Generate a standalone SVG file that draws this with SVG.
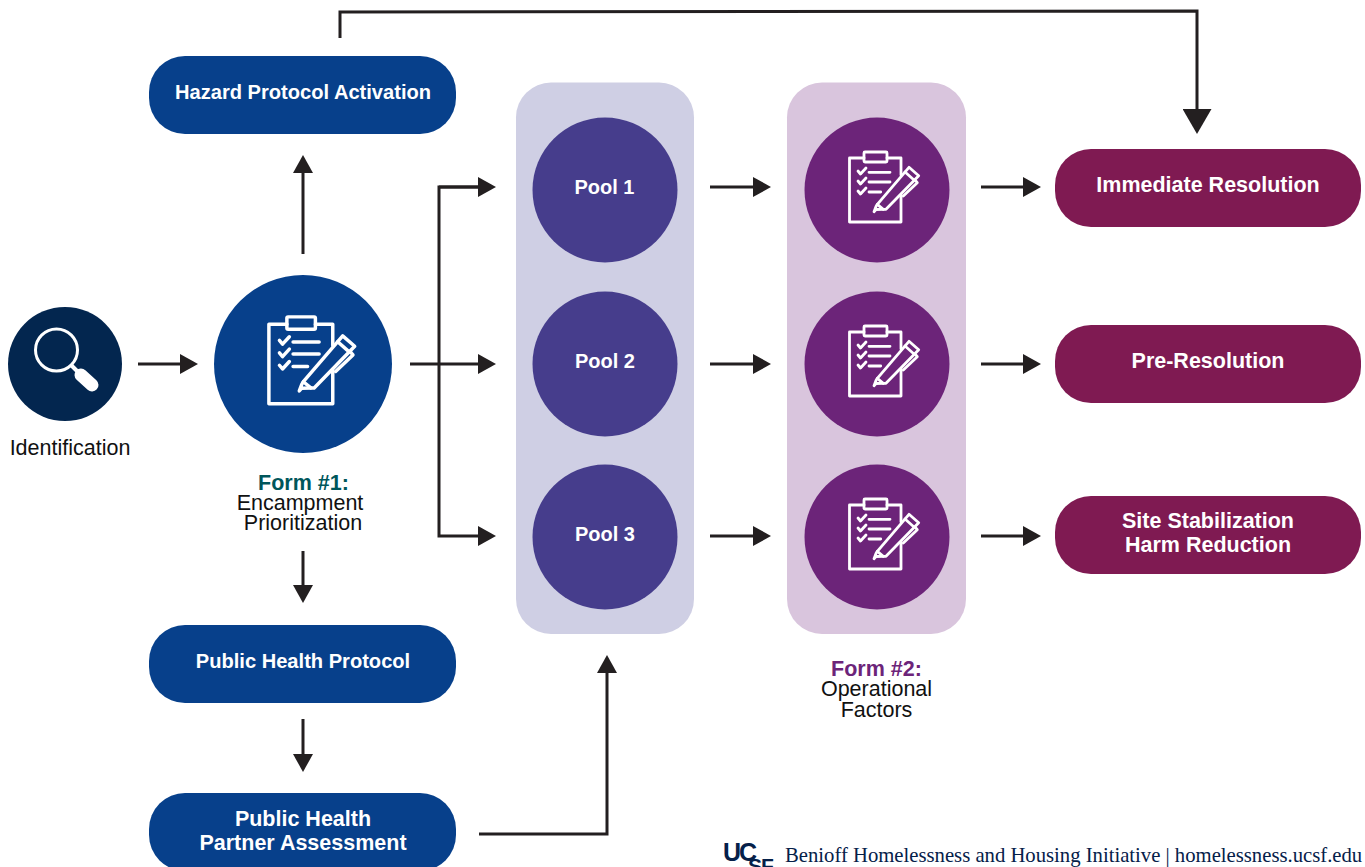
<svg xmlns="http://www.w3.org/2000/svg" width="1365" height="867" viewBox="0 0 1365 867">
<style>
text{font-family:"Liberation Sans",Arial,Helvetica,sans-serif;text-anchor:middle}
.pill{font-weight:700;font-size:21.500px;fill:#fff}
.pills{font-weight:700;font-size:20.100px;fill:#fff}
.pool{font-weight:700;font-size:20px;fill:#fff}
.cap{font-size:21.500px;fill:#111}
.capb{font-size:21.500px;font-weight:700}
.blue{fill:#07408b}.maroon{fill:#7f1a52}.poolc{fill:#463d8c}.formc{fill:#6c2479}
.conn path{fill:none;stroke:#231f20;stroke-width:3}
.ic{fill:none;stroke:#fff;stroke-width:2.800;stroke-linejoin:round;stroke-linecap:round}
</style>
<defs>
<marker id="ah" markerUnits="userSpaceOnUse" markerWidth="18" markerHeight="20" refX="6" refY="10" orient="auto" viewBox="0 0 18 20"><path d="M0 0L18 10L0 20Z" fill="#231f20"/></marker>
<marker id="ahb" markerUnits="userSpaceOnUse" markerWidth="25" markerHeight="29" refX="8" refY="14.500" orient="auto" viewBox="0 0 25 29"><path d="M0 0L25 14.500L0 29Z" fill="#231f20"/></marker>
<g id="formicon" class="ic">
<path d="M-13 -32H-27.500V32H24V5M24 -15V-32H10"/>
<rect x="-13" y="-38" width="23" height="10" rx="1"/>
<path d="M-19 -19L-16.500 -16L-11 -22M-19 -9L-16.500 -6L-11 -12M-19 1L-16.500 4L-11 -2"/>
<path d="M-8 -17.700H13M-8 -8H13M-8 2H3.700"/>
<path d="M-3 21.700L-1 16.500L0.300 14.300L32 -22.700L41.700 -14.300L9 19.300L6.300 19.300L-1 19.500Z"/>
<path d="M0.300 14.300L6.300 19.300M28 -18L37 -10M26.300 6L40.300 -7.300L38 -10"/>
</g>
</defs>
<rect width="1365" height="867" fill="#fff"/>
<g id="panel-pools"><rect x="516" y="82.500" width="178" height="551.500" rx="35" fill="#cfcfe4"/></g>
<g id="panel-forms"><rect x="787" y="82.500" width="179" height="551.500" rx="35" fill="#d9c5dd"/></g>
<g class="conn" id="connectors">
<path marker-end="url(#ah)" d="M138 364H186"/>
<path marker-end="url(#ah)" d="M303 254V167"/>
<path marker-end="url(#ah)" d="M410 364H484"/>
<path marker-end="url(#ah)" d="M478 187H439V536H484"/>
<path marker-end="url(#ah)" d="M439 187H484"/>
<path marker-end="url(#ah)" d="M710 187H759"/>
<path marker-end="url(#ah)" d="M710 364H759"/>
<path marker-end="url(#ah)" d="M710 536H759"/>
<path marker-end="url(#ah)" d="M981 187H1029"/>
<path marker-end="url(#ah)" d="M981 364H1029"/>
<path marker-end="url(#ah)" d="M981 536H1029"/>
<path marker-end="url(#ah)" d="M303 551V591"/>
<path marker-end="url(#ah)" d="M303 719V760"/>
<path marker-end="url(#ah)" d="M479 834H607V667"/>
<path marker-end="url(#ahb)" d="M340 38V12L1197 11V117"/>
</g>
<g id="identification">
<circle cx="65" cy="364" r="57" fill="#03264f"/>
<circle cx="56.500" cy="350" r="21" fill="none" stroke="#fff" stroke-width="3"/>
<path d="M71 365L78 372" stroke="#fff" stroke-width="4" fill="none"/>
<path d="M81 375L92 385" stroke="#fff" stroke-width="13" stroke-linecap="round" fill="none"/>
<text class="cap" x="70" y="455">Identification</text>
</g>
<g id="form1">
<circle cx="303" cy="364" r="89" class="blue"/>
<use href="#formicon" transform="translate(303 364) scale(1.240)"/>
<text class="capb" x="303.500" y="490" fill="#00565b">Form #1:</text>
<text class="cap" x="300" y="510">Encampment</text>
<text class="cap" x="303" y="530">Prioritization</text>
</g>
<g id="hazard"><rect x="149" y="56" width="307" height="78" rx="36" class="blue"/><text class="pills" x="303" y="99">Hazard Protocol Activation</text></g>
<g id="public-health"><rect x="149" y="625" width="307" height="78" rx="36" class="blue"/><text class="pills" x="303" y="668">Public Health Protocol</text></g>
<g id="partner"><rect x="149" y="793" width="307" height="78" rx="36" class="blue"/><text class="pill" x="303" y="826">Public Health</text><text class="pill" x="303" y="850">Partner Assessment</text></g>
<g id="pool1"><circle cx="605" cy="190" r="72.500" class="poolc"/><text class="pool" x="604.500" y="194">Pool 1</text></g>
<g id="pool2"><circle cx="605" cy="364" r="72.500" class="poolc"/><text class="pool" x="605" y="368">Pool 2</text></g>
<g id="pool3"><circle cx="605" cy="537" r="72.500" class="poolc"/><text class="pool" x="605" y="541">Pool 3</text></g>
<g id="form2a"><circle cx="877" cy="190" r="72.500" class="formc"/><use href="#formicon" transform="translate(877 190)"/></g>
<g id="form2b"><circle cx="877" cy="364" r="72.500" class="formc"/><use href="#formicon" transform="translate(877 364)"/></g>
<g id="form2c"><circle cx="877" cy="537" r="72.500" class="formc"/><use href="#formicon" transform="translate(877 537)"/></g>
<g id="form2-label">
<text class="capb" x="876.500" y="676" fill="#6c2479">Form #2:</text>
<text class="cap" x="876.500" y="696">Operational</text>
<text class="cap" x="876.500" y="717">Factors</text>
</g>
<g id="immediate"><rect x="1055" y="149" width="306" height="78" rx="36" class="maroon"/><text class="pill" x="1208" y="192">Immediate Resolution</text></g>
<g id="pre"><rect x="1055" y="325" width="306" height="78" rx="36" class="maroon"/><text class="pill" x="1208" y="368">Pre-Resolution</text></g>
<g id="site"><rect x="1055" y="496" width="306" height="78" rx="36" class="maroon"/><text class="pill" x="1208" y="528">Site Stabilization</text><text class="pill" x="1208" y="552">Harm Reduction</text></g>
<g id="footer" fill="#052049">
<text x="723" y="861" style="text-anchor:start;font-weight:700;font-size:25px;letter-spacing:-2px">UC</text>
<text x="748" y="873" style="text-anchor:start;font-weight:700;font-size:21px;letter-spacing:-1px">SF</text>
<text x="785" y="862" style="text-anchor:start;font-family:'Liberation Serif','Times New Roman',serif;font-size:20.700px">Benioff Homelessness and Housing Initiative | homelessness.ucsf.edu</text>
</g>
</svg>
